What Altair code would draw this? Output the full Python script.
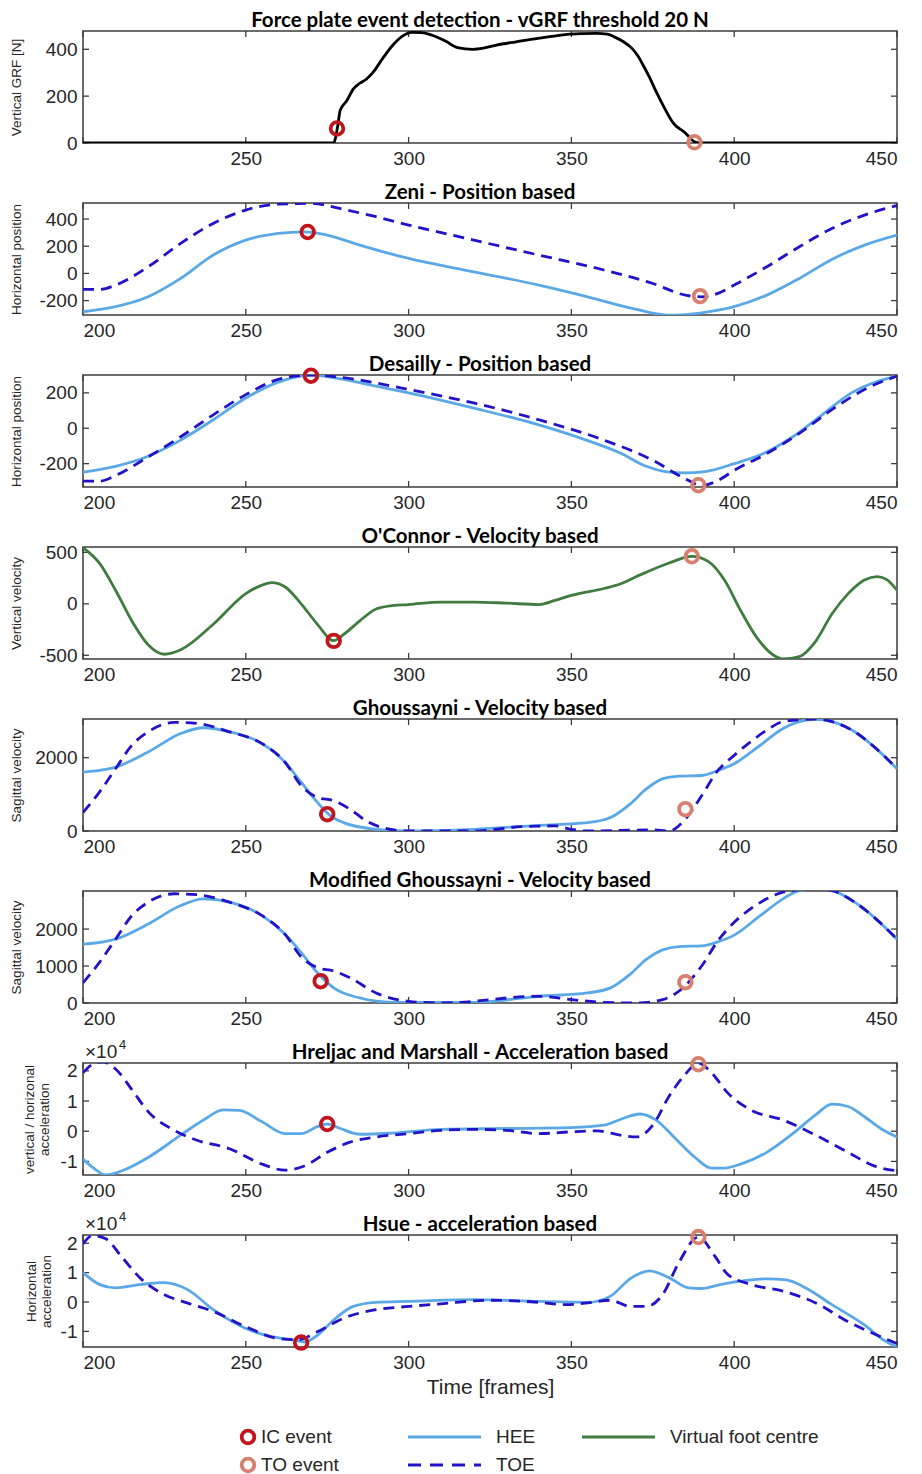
import altair as alt
import pandas as pd

# ---------------- data ----------------
X_TICKS = [200, 250, 300, 350, 400, 450]

# Panel 1 - force plate vertical GRF
GRF_X = [200, 277, 277.6, 278.2, 279, 281, 283, 285, 287, 289, 292, 295, 298, 301, 304, 307, 311.6, 315, 319.7,
         323, 327, 333, 339.7, 344, 348.7, 353, 357.8, 361, 363, 366, 368.6, 370.5, 372, 374, 376, 378.6, 381.3,
         385, 388, 390, 450]
GRF_Y = [0, 0, 25, 70, 140, 180, 230, 255, 272, 300, 360, 415, 455, 472, 471, 461, 433, 407, 400,
         405, 418, 432, 447, 455, 464, 467, 468, 465, 454, 432, 404, 370, 333, 280, 220, 149, 85,
         43, 4, 0, 0]
GRF_IC = [278, 62]
GRF_TO = [387.8, 3]

# Panel 2 - Zeni
ZENI_TOE_X = [200, 205, 210, 220, 230, 240, 250, 260, 270, 280, 290, 300, 320, 340, 360, 375, 385, 390, 395, 400,
              410, 420, 430, 440, 450]
ZENI_TOE_Y = [-118, -118, -86, 49, 221, 368, 466, 510, 515, 471, 417, 356, 245, 135, 25, -74, -160, -172, -147, -86,
              49, 196, 331, 429, 500]
ZENI_HEE_X = [200, 210, 220, 230, 240, 250, 260, 268, 275, 285, 300, 320, 340, 355, 370, 380, 390, 400, 410, 420,
              430, 440, 450]
ZENI_HEE_Y = [-282, -245, -172, -37, 135, 245, 294, 306, 282, 208, 110, 12, -86, -172, -265, -307, -290, -245, -160,
              -37, 103, 208, 282]
ZENI_IC = [269, 305]
ZENI_TO = [389.5, -167]

# Panel 3 - Desailly
DES_HEE_X = [200, 210, 220, 230, 240, 250, 260, 270, 280, 290, 300, 320, 340, 355, 365, 373, 380, 385, 391, 400,
             409, 418, 427, 436, 450]
DES_HEE_Y = [-248, -215, -158, -67, 48, 171, 261, 301, 276, 238, 200, 114, 19, -70, -140, -215, -248, -252, -245,
             -200, -143, -48, 76, 200, 295]
DES_TOE_X = [200, 205, 210, 220, 230, 240, 250, 260, 270, 280, 300, 320, 340, 360, 375, 385, 390, 395, 400, 410,
             420, 430, 440, 450]
DES_TOE_Y = [-299, -299, -267, -162, -48, 76, 190, 276, 301, 286, 219, 143, 48, -67, -181, -286, -324, -295, -238,
             -143, -29, 105, 219, 295]
DES_IC = [270, 297]
DES_TO = [389, -322]

# Panel 4 - O'Connor (virtual foot centre)
OC_X = [200, 205, 210, 215, 220, 225, 230, 240, 250, 255, 258, 262, 267, 272, 277, 280, 285, 290, 295, 300, 310,
        320, 330, 340, 345, 350, 360, 365, 370, 380, 387, 392, 397, 402, 407, 412, 415, 420, 425, 430, 435, 440,
        444, 447, 450]
OC_Y = [546, 397, 132, -166, -397, -490, -447, -199, 99, 182, 205, 166, 0, -199, -358, -298, -166, -50, -17, -7, 17,
        17, 7, -7, 33, 83, 149, 192, 265, 397, 460, 412, 232, -66, -331, -497, -536, -513, -364, -99, 99, 232,
        265, 232, 132]
OC_IC = [277, -360]
OC_TO = [387, 462]

# Panel 5 - Ghoussayni
GH_HEE_X = [200, 205, 210, 220, 230, 237, 245, 255, 262, 267, 272, 276, 280, 290, 300, 320, 340, 355, 362, 368, 373,
            378, 383, 390, 395, 400, 408, 415, 420, 425, 430, 437, 443, 450]
GH_HEE_Y = [1606, 1651, 1743, 2156, 2661, 2817, 2706, 2385, 1881, 1330, 780, 413, 229, 46, 0, 46, 156, 229, 367, 734,
            1147, 1422, 1495, 1514, 1651, 1835, 2339, 2798, 2982, 3046, 2982, 2706, 2294, 1697]
GH_TOE_X = [200, 205, 210, 215, 220, 228, 235, 245, 255, 262, 267, 272, 277, 282, 287, 292, 300, 320, 335, 345, 350,
            355, 375, 380, 385, 390, 395, 400, 405, 410, 415, 425, 430, 437, 443, 450]
GH_TOE_Y = [505, 1055, 1697, 2339, 2706, 2963, 2936, 2706, 2385, 1881, 1239, 917, 826, 596, 275, 92, 0, 0, 119, 138,
            46, 0, 28, 0, 321, 963, 1651, 2064, 2431, 2752, 2982, 3055, 2982, 2706, 2294, 1697]
GH_IC = [275, 459]
GH_TO = [385, 596]

# Panel 6 - Modified Ghoussayni
MG_HEE_X = [200, 210, 220, 230, 237, 245, 255, 262, 267, 272, 277, 285, 295, 320, 340, 355, 362, 368, 373, 378, 383,
            390, 395, 400, 408, 415, 420, 425, 430, 437, 443, 450]
MG_HEE_Y = [1591, 1727, 2136, 2636, 2818, 2727, 2364, 1864, 1364, 818, 409, 136, 18, 18, 182, 273, 409, 773, 1182,
            1436, 1527, 1545, 1655, 1836, 2364, 2818, 3040, 3080, 3040, 2727, 2318, 1727]
MG_TOE_X = [200, 205, 210, 215, 220, 228, 235, 245, 255, 262, 267, 272, 277, 282, 290, 300, 310, 340, 350, 360, 370,
            378, 383, 390, 395, 400, 405, 410, 415, 420, 425, 430, 437, 443, 450]
MG_TOE_Y = [545, 1090, 1727, 2364, 2727, 2955, 2930, 2727, 2364, 1864, 1250, 955, 864, 682, 273, 45, 0, 182, 91, 18,
            0, 91, 318, 1000, 1682, 2182, 2545, 2818, 3000, 3060, 3080, 3040, 2727, 2318, 1727]
MG_IC = [273, 591]
MG_TO = [385, 564]

# Panel 7 - Hreljac and Marshall (x 10^4)
HM_HEE_X = [200, 203, 207, 212, 220, 230, 237, 243, 248, 255, 262, 267, 272, 275, 279, 285, 295, 310, 330, 350, 360,
            366, 371, 376, 382, 388, 393, 397, 402, 410, 418, 425, 430, 435, 440, 445, 450]
HM_HEE_Y = [-0.92, -1.2, -1.45, -1.31, -0.87, -0.13, 0.37, 0.71, 0.69, 0.31, -0.08, -0.08, 0.15, 0.24, 0.09, -0.1,
            -0.06, 0.06, 0.09, 0.12, 0.2, 0.43, 0.57, 0.37, -0.25, -0.87, -1.22, -1.22, -1.09, -0.7, -0.08, 0.54,
            0.9, 0.82, 0.48, 0.09, -0.19]
HM_TOE_X = [200, 203, 206, 210, 215, 220, 228, 235, 245, 255, 262, 268, 275, 282, 290, 300, 310, 320, 330, 340, 350,
            358, 365, 370, 375, 380, 385, 389, 393, 398, 405, 415, 425, 435, 443, 450]
HM_TOE_Y = [1.94, 2.22, 2.3, 2.06, 1.38, 0.65, 0.03, -0.3, -0.58, -1.09, -1.29, -1.15, -0.7, -0.36, -0.19, -0.08,
            0.03, 0.06, 0.03, -0.08, -0.02, 0.01, -0.13, -0.19, 0.2, 1.16, 1.89, 2.26, 1.94, 1.27, 0.71, 0.37, -0.13,
            -0.7, -1.15, -1.31]
HM_IC = [275, 0.24]
HM_TO = [389, 2.22]

# Panel 8 - Hsue (x 10^4)
HS_HEE_X = [200, 205, 210, 218, 225, 232, 240, 250, 258, 265, 268, 272, 277, 283, 290, 300, 320, 340, 355, 362, 368,
            374, 380, 386, 390, 396, 402, 410, 416, 422, 430, 440, 446, 450]
HS_HEE_Y = [1.0, 0.6, 0.48, 0.6, 0.66, 0.43, -0.26, -0.9, -1.18, -1.3, -1.36, -1.13, -0.61, -0.15, -0.01, 0.02,
            0.08, 0.02, -0.01, 0.2, 0.79, 1.06, 0.83, 0.48, 0.46, 0.6, 0.71, 0.79, 0.75, 0.48, -0.09, -0.78, -1.3,
            -1.53]
HS_TOE_X = [200, 203, 207, 212, 218, 225, 232, 240, 250, 260, 266, 272, 280, 290, 300, 310, 325, 340, 348, 355, 362,
            368, 373, 378, 383, 389, 394, 398, 405, 415, 425, 435, 445, 450]
HS_TOE_Y = [1.98, 2.26, 2.15, 1.52, 0.77, 0.25, -0.03, -0.32, -0.84, -1.24, -1.28, -1.01, -0.55, -0.26, -0.15,
            -0.06, 0.06, -0.01, -0.09, -0.03, 0.06, -0.15, -0.15, 0.25, 1.34, 2.21, 1.57, 0.94, 0.6, 0.37, -0.03,
            -0.67, -1.18, -1.41]
HS_IC = [267, -1.38]
HS_TO = [389, 2.21]

# legend
LEG_LABELS = ["IC event", "TO event", "HEE", "TOE", "Virtual foot centre"]
LEG_KIND = ["ic", "to", "hee", "toe", "vfc"]
LEG_COL = [0, 0, 1, 1, 2]
LEG_ROW = [0, 1, 0, 1, 0]

# ---------------- style ----------------
W, H = 814, 112
HEE_C = "#5aa9e6"
TOE_C = "#2212c8"
VFC_C = "#3f7c3d"
GRF_C = "#000000"
IC_C = "#c0151c"
TO_C = "#d8806f"
BOX_C = "#3c3c3c"
TITLE_FONT = "Lato"
LABEL_FONT = "Liberation Sans"


def panel(title, ytitle, ydom, yticks, series, ic, to, xlabels=X_TICKS, sci=False, last=False, title_x=-60):
    xsc = alt.Scale(domain=[200, 450], nice=False, zero=False)
    ysc = alt.Scale(domain=ydom, nice=False, zero=False)
    xaxis = alt.Axis(values=xlabels, format="d", title="Time [frames]" if last else None,
                     titleFontSize=21, titleFont=LABEL_FONT, titlePadding=4, titleColor="#262626")
    yaxis = alt.Axis(values=yticks, labelExpr="toString(datum.value)", title=ytitle, titleX=title_x,
                     titleY=H / 2, titleAngle=-90, titleAlign="center", titleBaseline="bottom")

    def X(field):
        return alt.X(field, scale=xsc, axis=xaxis)

    def Y(field):
        return alt.Y(field, scale=ysc, axis=yaxis)

    xt = pd.DataFrame({"t": X_TICKS})
    yt = pd.DataFrame({"t": yticks})
    rule = dict(color=BOX_C, strokeWidth=1.3)
    layers = [
        alt.Chart(xt).mark_rule(**rule).encode(x=X("t:Q"), y=alt.value(H), y2=alt.value(H - 6)),
        alt.Chart(xt).mark_rule(**rule).encode(x=X("t:Q"), y=alt.value(0), y2=alt.value(6)),
        alt.Chart(yt).mark_rule(**rule).encode(y=Y("t:Q"), x=alt.value(0), x2=alt.value(6)),
        alt.Chart(yt).mark_rule(**rule).encode(y=Y("t:Q"), x=alt.value(W), x2=alt.value(W - 6)),
    ]
    for (xs, ys, color, dashed) in series:
        df = pd.DataFrame({"frame": xs, "value": ys})
        kw = dict(color=color, strokeWidth=2.8, interpolate="monotone", clip=True)
        if dashed:
            kw["strokeDash"] = [11, 7]
        layers.append(alt.Chart(df).mark_line(**kw).encode(x=X("frame:Q"), y=Y("value:Q")))
    for pt, color in ((ic, IC_C), (to, TO_C)):
        df = pd.DataFrame({"frame": [pt[0]], "value": [pt[1]]})
        layers.append(alt.Chart(df).mark_point(shape="circle", filled=False, size=160, strokeWidth=3.8,
                                               color=color, opacity=1).encode(x=X("frame:Q"), y=Y("value:Q")))
    one = pd.DataFrame({"a": [0]})
    # panel title
    layers.append(alt.Chart(one).mark_text(text=title, font=TITLE_FONT, fontSize=20.5, fontWeight="bold",
                                           align="center", baseline="alphabetic", color="#000000").encode(
        x=alt.value(W / 2 - 10), y=alt.value(-4)))
    if sci:
        layers.append(alt.Chart(one).mark_text(text="\u00d710", font=LABEL_FONT, fontSize=19, align="left",
                                               baseline="alphabetic", color="#262626").encode(
            x=alt.value(2), y=alt.value(-5)))
        layers.append(alt.Chart(one).mark_text(text="4", font=LABEL_FONT, fontSize=13, align="left",
                                               baseline="alphabetic", color="#262626").encode(
            x=alt.value(36), y=alt.value(-14)))
    return alt.layer(*layers).properties(width=W, height=H)


p1 = panel("Force plate event detection - vGRF threshold 20 N", "Vertical GRF [N]", [0, 478], [0, 200, 400],
           [(GRF_X, GRF_Y, GRF_C, False)], GRF_IC, GRF_TO, xlabels=[250, 300, 350, 400, 450])
p2 = panel("Zeni - Position based", "Horizontal position", [-306, 518], [-200, 0, 200, 400],
           [(ZENI_HEE_X, ZENI_HEE_Y, HEE_C, False), (ZENI_TOE_X, ZENI_TOE_Y, TOE_C, True)], ZENI_IC, ZENI_TO)
p3 = panel("Desailly - Position based", "Horizontal position", [-332, 301], [-200, 0, 200],
           [(DES_HEE_X, DES_HEE_Y, HEE_C, False), (DES_TOE_X, DES_TOE_Y, TOE_C, True)], DES_IC, DES_TO)
p4 = panel("O'Connor - Velocity based", "Vertical velocity", [-536, 552], [-500, 0, 500],
           [(OC_X, OC_Y, VFC_C, False)], OC_IC, OC_TO)
p5 = panel("Ghoussayni - Velocity based", "Sagittal velocity", [0, 3055], [0, 2000],
           [(GH_HEE_X, GH_HEE_Y, HEE_C, False), (GH_TOE_X, GH_TOE_Y, TOE_C, True)], GH_IC, GH_TO)
p6 = panel("Modified Ghoussayni - Velocity based", "Sagittal velocity", [0, 3030], [0, 1000, 2000],
           [(MG_HEE_X, MG_HEE_Y, HEE_C, False), (MG_TOE_X, MG_TOE_Y, TOE_C, True)], MG_IC, MG_TO)
p7 = panel("Hreljac and Marshall - Acceleration based", ["vertical / horizonal", "acceleration"], [-1.45, 2.26],
           [-1, 0, 1, 2],
           [(HM_HEE_X, HM_HEE_Y, HEE_C, False), (HM_TOE_X, HM_TOE_Y, TOE_C, True)], HM_IC, HM_TO, sci=True,
           title_x=-47)
p8 = panel("Hsue - acceleration based", ["Horizontal", "acceleration"], [-1.53, 2.28], [-1, 0, 1, 2],
           [(HS_HEE_X, HS_HEE_Y, HEE_C, False), (HS_TOE_X, HS_TOE_Y, TOE_C, True)], HS_IC, HS_TO, sci=True,
           last=True, title_x=-45)

# ---------------- legend panel ----------------
LW, LH = W, 60
COL_X = [165, 325, 499]      # layout: symbol / line start per column
ROW_Y = [30, 58]
LINE_LEN = 73
leg = pd.DataFrame({"label": LEG_LABELS, "kind": LEG_KIND, "col": LEG_COL, "row": LEG_ROW})
leg["sx"] = [COL_X[c] for c in leg["col"]]
leg["sy"] = [ROW_Y[r] for r in leg["row"]]
leg["ex"] = [x + (0 if k in ("ic", "to") else LINE_LEN) for x, k in zip(leg["sx"], leg["kind"])]
leg["tx"] = [x + (13 if k in ("ic", "to") else 15) for x, k in zip(leg["ex"], leg["kind"])]
lxs = alt.Scale(domain=[0, LW], range=[0, LW], nice=False, zero=False)
lys = alt.Scale(domain=[0, LH], range=[0, LH], nice=False, zero=False)
styles = {"ic": IC_C, "to": TO_C, "hee": HEE_C, "toe": TOE_C, "vfc": VFC_C}
leg_layers = []
for kind, color in styles.items():
    sub = leg[leg["kind"] == kind]
    if kind in ("ic", "to"):
        leg_layers.append(alt.Chart(sub).mark_point(shape="circle", filled=False, size=160, strokeWidth=3.8,
                                                    color=color, opacity=1).encode(
            x=alt.X("sx:Q", scale=lxs, axis=None), y=alt.Y("sy:Q", scale=lys, axis=None)))
    else:
        kw = dict(color=color, strokeWidth=3)
        if kind == "toe":
            kw["strokeDash"] = [13, 9]
        leg_layers.append(alt.Chart(sub).mark_rule(**kw).encode(
            x=alt.X("sx:Q", scale=lxs, axis=None), x2="ex:Q",
            y=alt.Y("sy:Q", scale=lys, axis=None)))
leg_layers.append(alt.Chart(leg).mark_text(font=LABEL_FONT, fontSize=19, align="left", baseline="middle",
                                           color="#262626").encode(
    x=alt.X("tx:Q", scale=lxs, axis=None), y=alt.Y("sy:Q", scale=lys, axis=None), text="label:N"))
legend = alt.layer(*leg_layers).properties(width=LW, height=LH, view=alt.ViewConfig(stroke=None))

chart = alt.vconcat(p1, p2, p3, p4, p5, p6, p7, p8, legend, spacing=60, bounds="flush").properties(
    padding={"top": 2, "left": 0, "right": 0, "bottom": 0}
).configure_view(stroke=BOX_C, strokeWidth=1.5).configure_axis(
    labelFont=LABEL_FONT, labelFontSize=19, labelColor="#262626", labelPadding=6,
    titleFont=LABEL_FONT, titleFontSize=13.5, titleFontWeight="normal", titleColor="#262626",
    grid=False, ticks=False, domain=False
)

chart.save("out.html", embed_options={"renderer": "svg", "actions": False})
